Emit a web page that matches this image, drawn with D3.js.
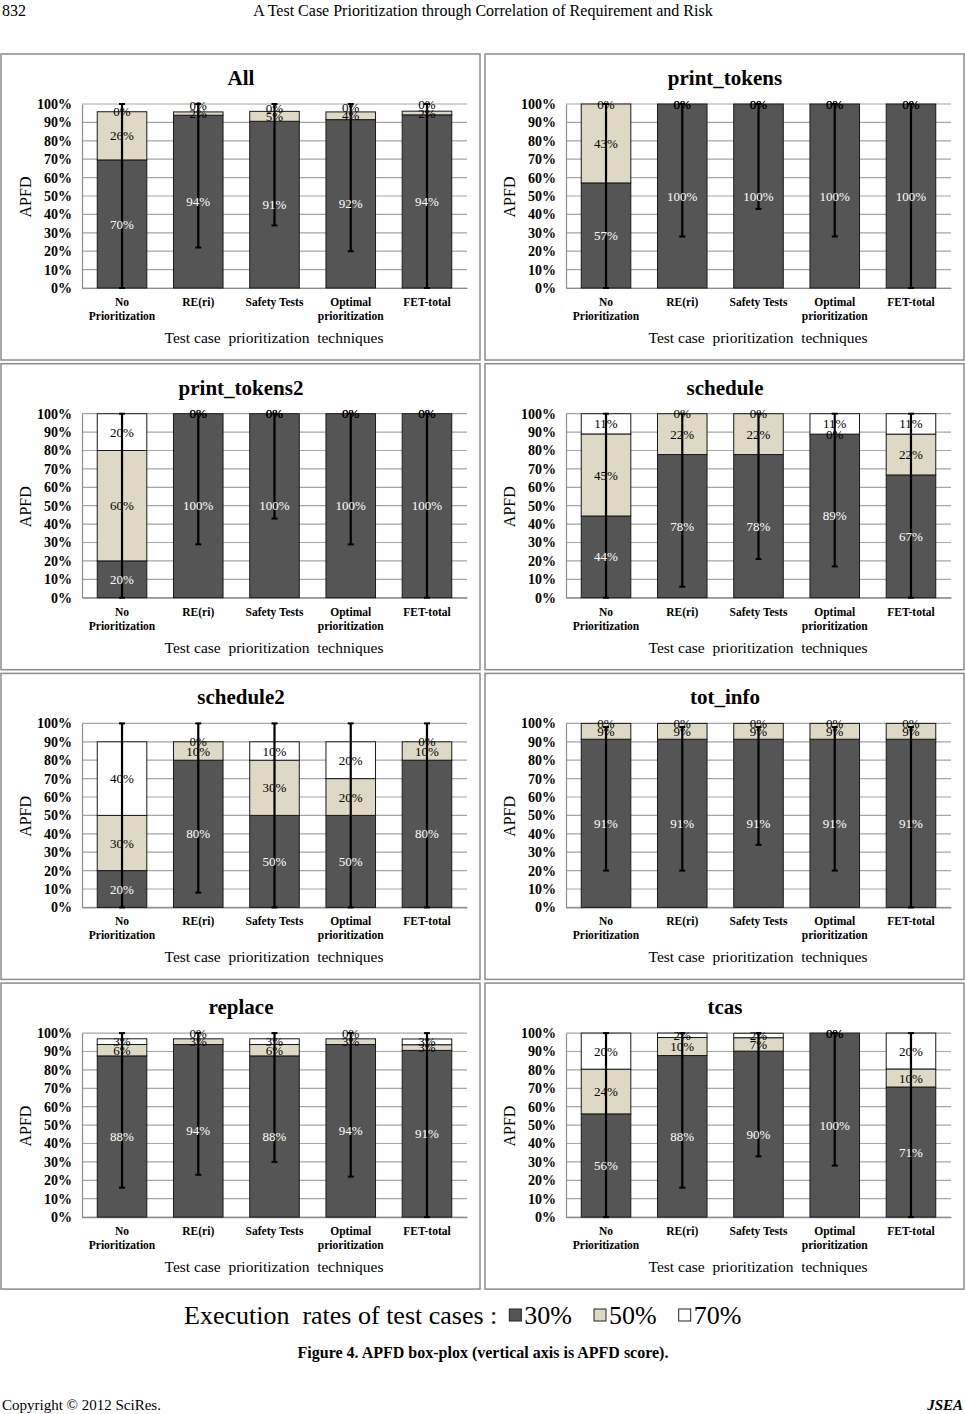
<!DOCTYPE html>
<html>
<head>
<meta charset="utf-8">
<script src="https://cdn.jsdelivr.net/npm/d3@7/dist/d3.min.js"></script>
<style>
  html, body { margin: 0; padding: 0; background: #fff; }
  svg { display: block; font-family: "Liberation Serif", "Times New Roman", serif; }
  svg text { font-family: "Liberation Serif", "Times New Roman", serif; }
</style>
</head>
<body>
<svg id="chart" width="965" height="1414"></svg>
<script>
// ---------- DATA ----------
const categories = ["No Prioritization", "RE(ri)", "Safety Tests", "Optimal prioritization", "FET-total"];
const categoryLines = [["No", "Prioritization"], ["RE(ri)"], ["Safety Tests"], ["Optimal", "prioritization"], ["FET-total"]];
const panelNames = ["All", "print_tokens", "print_tokens2", "schedule", "schedule2", "tot_info", "replace", "tcas"];
const seriesNames = ["30%", "50%", "70%"];

// execution rate 30% (dark segment)
const rate30 = [
  [69.6, 93.9, 90.6, 91.5, 94.1],
  [57.1, 100, 100, 100, 100],
  [20, 100, 100, 100, 100],
  [44.4, 77.8, 77.8, 88.9, 66.7],
  [20, 80, 50, 50, 80],
  [91.4, 91.4, 91.4, 91.4, 91.4],
  [87.6, 93.8, 87.6, 93.8, 90.6],
  [56.1, 87.8, 90.2, 100, 70.7]
];
// execution rate 50% (beige segment)
const rate50 = [
  [26.2, 1.8, 5.4, 4.2, 2.0],
  [42.9, 0, 0, 0, 0],
  [60, 0, 0, 0, 0],
  [44.6, 22.2, 22.2, 0, 22.2],
  [30, 10, 30, 20, 10],
  [8.6, 8.6, 8.6, 8.6, 8.6],
  [6.2, 3.1, 6.2, 3.1, 3.1],
  [24.3, 9.8, 7.3, 0, 9.8]
];
// execution rate 70% (white segment)
const rate70 = [
  [0, 0, 0, 0, 0],
  [0, 0, 0, 0, 0],
  [20, 0, 0, 0, 0],
  [11.0, 0, 0, 11.1, 11.1],
  [40, 0, 10, 20, 0],
  [0, 0, 0, 0, 0],
  [3.1, 0, 3.1, 0, 3.1],
  [19.6, 2.4, 2.4, 0, 19.5]
];
// error bar range (low / high APFD)
const errLow = [
  [0, 22, 34, 20, 0],
  [0, 28, 43, 28, 0],
  [0, 29, 43, 29, 0],
  [0, 6, 21, 17, 0],
  [0, 8, 0, 0, 0],
  [20, 20, 34, 20, 0],
  [16, 23, 30, 22, 0],
  [0, 16, 33, 28, 0]
];
const errHigh = [
  [100, 100, 100, 100, 100],
  [100, 100, 100, 100, 100],
  [100, 100, 100, 100, 100],
  [100, 100, 100, 100, 100],
  [100, 100, 100, 100, 100],
  [98, 98, 98, 98, 98],
  [100, 100, 100, 100, 100],
  [100, 100, 100, 100, 100]
];
const yTicks = [0, 10, 20, 30, 40, 50, 60, 70, 80, 90, 100];

// ---------- STYLE ----------
const colors = ["#555555", "#ddd9c4", "#ffffff"];
const textColors = ["#ffffff", "#000000", "#000000"];
const svg = d3.select("#chart");
const panelW = 479, panelH = 306;
const panelX = [1, 485];
const panelY0 = 54, panelStep = 309.7;
const plot = { left: 81, right: 466, top: 50, bottom: 234 };

// header
svg.append("text").attr("x", 2).attr("y", 16).attr("font-size", 16).text("832");
svg.append("text").attr("x", 483).attr("y", 16).attr("font-size", 16).attr("text-anchor", "middle")
  .text("A Test Case Prioritization through Correlation of Requirement and Risk");

const x = d3.scaleBand().domain(categories).range([plot.left, plot.right]).paddingInner(0.35).paddingOuter(0.2);
const y = d3.scaleLinear().domain([0, 100]).range([plot.bottom, plot.top]);
const fmt = v => Math.round(v) + "%";

panelNames.forEach((name, p) => {
  const col = p % 2, row = Math.floor(p / 2);
  const g = svg.append("g").attr("transform", `translate(${panelX[col]},${panelY0 + row * panelStep})`);

  g.append("rect").attr("x", 0).attr("y", 0).attr("width", panelW).attr("height", panelH)
    .attr("fill", "#fff").attr("stroke", "#8c8c8c").attr("stroke-width", 1.5);

  g.append("text").attr("x", 240).attr("y", 31).attr("text-anchor", "middle")
    .attr("font-size", 21).attr("font-weight", "bold").text(name);

  // gridlines
  g.append("g").selectAll("line").data(yTicks).join("line")
    .attr("x1", plot.left).attr("x2", plot.right)
    .attr("y1", d => y(d)).attr("y2", d => y(d))
    .attr("stroke", "#a6a6a6").attr("stroke-width", 1.2);

  // y axis
  const yAxis = d3.axisLeft(y).tickValues(yTicks).tickFormat(d => d + "%").tickSize(0).tickPadding(10);
  const ya = g.append("g").attr("transform", `translate(${plot.left},0)`).call(yAxis);
  ya.attr("font-family", null);
  ya.select(".domain").attr("stroke", "#8c8c8c").attr("stroke-width", 1.2);
  ya.selectAll("text").attr("font-size", 14).attr("font-weight", "bold").attr("fill", "#000");

  // x axis
  const xAxis = d3.axisBottom(x).tickSize(0).tickFormat("");
  const xa = g.append("g").attr("transform", `translate(0,${plot.bottom})`).call(xAxis);
  xa.select(".domain").attr("stroke", "#8c8c8c").attr("stroke-width", 1.2);
  categories.forEach((c, i) => {
    const t = g.append("text").attr("x", x(c) + x.bandwidth() / 2).attr("y", 252)
      .attr("text-anchor", "middle").attr("font-size", 11.5).attr("font-weight", "bold");
    categoryLines[i].forEach((ln, k) => {
      t.append("tspan").attr("x", x(c) + x.bandwidth() / 2).attr("dy", k === 0 ? 0 : 14).text(ln);
    });
  });

  // axis titles
  g.append("text").attr("transform", "translate(30,143) rotate(-90)").attr("text-anchor", "middle")
    .attr("font-size", 16).text("APFD");
  g.append("text").attr("x", 273).attr("y", 289).attr("text-anchor", "middle")
    .attr("font-size", 15.5).attr("xml:space", "preserve").text("Test case  prioritization  techniques");

  // stacked bars
  const rows = categories.map((c, i) => ({ cat: c, s0: rate30[p][i], s1: rate50[p][i], s2: rate70[p][i] }));
  const stack = d3.stack().keys(["s0", "s1", "s2"])(rows);
  stack.forEach((layer, si) => {
    g.append("g").selectAll("rect").data(layer).join("rect")
      .attr("x", d => x(d.data.cat)).attr("width", x.bandwidth())
      .attr("y", d => y(d[1])).attr("height", d => y(d[0]) - y(d[1]))
      .attr("fill", colors[si]).attr("stroke", "#1a1a1a").attr("stroke-width", 1);
  });

  // error bars
  const eb = g.append("g");
  categories.forEach((c, i) => {
    const cx = x(c) + x.bandwidth() / 2;
    eb.append("line").attr("x1", cx).attr("x2", cx).attr("y1", y(errLow[p][i])).attr("y2", y(errHigh[p][i]))
      .attr("stroke", "#000").attr("stroke-width", 2.2);
    [errLow[p][i], errHigh[p][i]].forEach(v => {
      eb.append("line").attr("x1", cx - 3).attr("x2", cx + 3).attr("y1", y(v)).attr("y2", y(v))
        .attr("stroke", "#000").attr("stroke-width", 2);
    });
  });

  // data labels (centered in segment; a label crowding the one below is nudged up a little)
  categories.forEach((c, i) => {
    let prev = -Infinity;
    stack.forEach((layer, si) => {
      const d = layer[i];
      let pos = (d[0] + d[1]) / 2;
      const gap = pos - prev;
      if (gap > 0.01 && gap < 3) pos = prev + 4.5;
      prev = pos;
      g.append("text")
        .attr("x", x(c) + x.bandwidth() / 2)
        .attr("y", y(pos)).attr("dy", "0.35em")
        .attr("text-anchor", "middle").attr("font-size", 13).attr("fill", textColors[si])
        .text(fmt(d[1] - d[0]));
    });
  });
});

// legend
const lg = svg.append("g");
let lx = 184;
const ly = 1324;
const lt = lg.append("text").attr("x", lx).attr("y", ly).attr("font-size", 26).attr("xml:space", "preserve")
  .text("Execution  rates of test cases :");
lx += lt.node().getComputedTextLength() + 12;
seriesNames.forEach((s, i) => {
  lg.append("rect").attr("x", lx).attr("y", ly - 15).attr("width", 12).attr("height", 12)
    .attr("fill", colors[i]).attr("stroke", "#222").attr("stroke-width", 1);
  const t = lg.append("text").attr("x", lx + 15).attr("y", ly).attr("font-size", 26).text(s);
  lx += 15 + t.node().getComputedTextLength() + 22;
});

svg.append("text").attr("x", 483).attr("y", 1358).attr("text-anchor", "middle")
  .attr("font-size", 16).attr("font-weight", "bold")
  .text("Figure 4. APFD box-plox (vertical axis is APFD score).");

svg.append("text").attr("x", 2).attr("y", 1410).attr("font-size", 15).text("Copyright © 2012 SciRes.");
svg.append("text").attr("x", 963).attr("y", 1410).attr("font-size", 15).attr("text-anchor", "end")
  .attr("font-weight", "bold").attr("font-style", "italic").text("JSEA");
</script>
</body>
</html>
